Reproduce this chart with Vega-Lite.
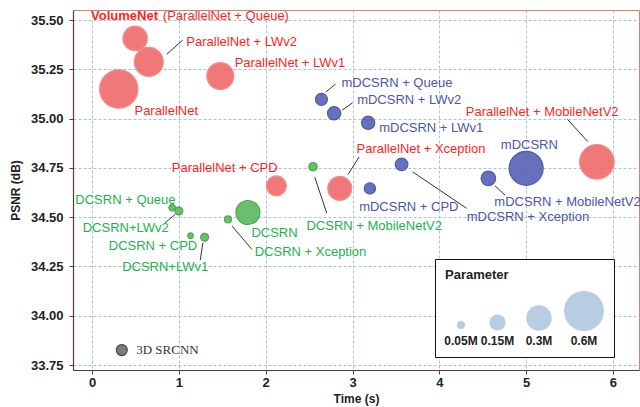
{
  "$schema": "https://vega.github.io/schema/vega-lite/v6.json",
  "width": 566,
  "height": 360,
  "autosize": {"type": "none"},
  "padding": {"left": 73, "top": 10, "right": 1, "bottom": 37},
  "background": "white",
  "config": {
    "font": "Liberation Sans",
    "view": {"stroke": "#d9826e", "strokeWidth": 1},
    "axis": {
      "grid": true,
      "gridColor": "#a9c4d4",
      "gridDash": [3, 2],
      "gridWidth": 1,
      "domainColor": "#5b3b33",
      "domainWidth": 1.2,
      "tickColor": "#5b3b33",
      "tickSize": 4,
      "labelFont": "Liberation Sans",
      "labelFontSize": 13,
      "labelFontWeight": "bold",
      "labelColor": "#222222",
      "titleFont": "Liberation Sans",
      "titleFontWeight": "bold",
      "titleFontSize": 12,
      "titleColor": "#222222"
    }
  },
  "datasets": {
    "points": [
      {"model": "VolumeNet (ParallelNet + Queue)", "group": "ParallelNet", "time": 0.496, "psnr": 35.407, "params": 0.281},
      {"model": "ParallelNet + LWv2", "group": "ParallelNet", "time": 0.653, "psnr": 35.288, "params": 0.366},
      {"model": "ParallelNet", "group": "ParallelNet", "time": 0.307, "psnr": 35.15, "params": 0.563},
      {"model": "ParallelNet + LWv1", "group": "ParallelNet", "time": 1.477, "psnr": 35.216, "params": 0.328},
      {"model": "ParallelNet + CPD", "group": "ParallelNet", "time": 2.123, "psnr": 34.659, "params": 0.206},
      {"model": "ParallelNet + Xception", "group": "ParallelNet", "time": 2.853, "psnr": 34.646, "params": 0.273},
      {"model": "ParallelNet + MobileNetV2", "group": "ParallelNet", "time": 5.815, "psnr": 34.781, "params": 0.48},
      {"model": "mDCSRN + Queue", "group": "mDCSRN", "time": 2.642, "psnr": 35.098, "params": 0.094},
      {"model": "mDCSRN + LWv2", "group": "mDCSRN", "time": 2.788, "psnr": 35.027, "params": 0.11},
      {"model": "mDCSRN + LWv1", "group": "mDCSRN", "time": 3.18, "psnr": 34.979, "params": 0.11},
      {"model": "mDCSRN + CPD", "group": "mDCSRN", "time": 3.2, "psnr": 34.646, "params": 0.086},
      {"model": "mDCSRN + Xception", "group": "mDCSRN", "time": 3.565, "psnr": 34.768, "params": 0.102},
      {"model": "mDCSRN + MobileNetV2", "group": "mDCSRN", "time": 4.565, "psnr": 34.697, "params": 0.127},
      {"model": "mDCSRN", "group": "mDCSRN", "time": 5.0, "psnr": 34.748, "params": 0.467},
      {"model": "DCSRN + Queue", "group": "DCSRN", "time": 0.923, "psnr": 34.548, "params": 0.038},
      {"model": "DCSRN + LWv2", "group": "DCSRN", "time": 0.999, "psnr": 34.532, "params": 0.05},
      {"model": "DCSRN + CPD", "group": "DCSRN", "time": 1.134, "psnr": 34.406, "params": 0.029},
      {"model": "DCSRN + LWv1", "group": "DCSRN", "time": 1.296, "psnr": 34.398, "params": 0.05},
      {"model": "DCSRN + Xception", "group": "DCSRN", "time": 1.565, "psnr": 34.489, "params": 0.041},
      {"model": "DCSRN", "group": "DCSRN", "time": 1.795, "psnr": 34.524, "params": 0.273},
      {"model": "DCSRN + MobileNetV2", "group": "DCSRN", "time": 2.545, "psnr": 34.756, "params": 0.054},
      {"model": "3D SRCNN", "group": "3D SRCNN", "time": 0.342, "psnr": 33.826, "params": 0.082}
    ],
    "labels": [
      {"label": "VolumeNet", "group": "ParallelNet", "labelTime": -0.012, "labelPSNR": 35.522},
      {"label": "(ParallelNet + Queue)", "group": "ParallelNet", "labelTime": 0.815, "labelPSNR": 35.522},
      {"label": "ParallelNet + LWv2", "group": "ParallelNet", "labelTime": 1.085, "labelPSNR": 35.387},
      {"label": "ParallelNet + LWv1", "group": "ParallelNet", "labelTime": 1.642, "labelPSNR": 35.28},
      {"label": "ParallelNet", "group": "ParallelNet", "labelTime": 0.488, "labelPSNR": 35.038},
      {"label": "ParallelNet + CPD", "group": "ParallelNet", "labelTime": 0.918, "labelPSNR": 34.748},
      {"label": "ParallelNet + Xception", "group": "ParallelNet", "labelTime": 3.046, "labelPSNR": 34.844},
      {"label": "ParallelNet + MobileNetV2", "group": "ParallelNet", "labelTime": 4.304, "labelPSNR": 35.035},
      {"label": "mDCSRN + Queue", "group": "mDCSRN", "labelTime": 2.873, "labelPSNR": 35.182},
      {"label": "mDCSRN + LWv2", "group": "mDCSRN", "labelTime": 3.053, "labelPSNR": 35.094},
      {"label": "mDCSRN + LWv1", "group": "mDCSRN", "labelTime": 3.307, "labelPSNR": 34.951},
      {"label": "mDCSRN", "group": "mDCSRN", "labelTime": 4.708, "labelPSNR": 34.866},
      {"label": "mDCSRN + CPD", "group": "mDCSRN", "labelTime": 3.076, "labelPSNR": 34.553},
      {"label": "mDCSRN + Xception", "group": "mDCSRN", "labelTime": 4.315, "labelPSNR": 34.499},
      {"label": "mDCSRN + MobileNetV2", "group": "mDCSRN", "labelTime": 4.634, "labelPSNR": 34.578},
      {"label": "DCSRN + Queue", "group": "DCSRN", "labelTime": -0.193, "labelPSNR": 34.587},
      {"label": "DCSRN+LWv2", "group": "DCSRN", "labelTime": -0.108, "labelPSNR": 34.443},
      {"label": "DCSRN + CPD", "group": "DCSRN", "labelTime": 0.192, "labelPSNR": 34.355},
      {"label": "DCSRN+LWv1", "group": "DCSRN", "labelTime": 0.346, "labelPSNR": 34.245},
      {"label": "DCSRN", "group": "DCSRN", "labelTime": 1.835, "labelPSNR": 34.418},
      {"label": "DCSRN + Xception", "group": "DCSRN", "labelTime": 1.873, "labelPSNR": 34.324},
      {"label": "DCSRN + MobileNetV2", "group": "DCSRN", "labelTime": 2.469, "labelPSNR": 34.455},
      {"label": "3D SRCNN", "group": "3D SRCNN", "labelTime": 0.508, "labelPSNR": 33.826}
    ],
    "links": [
      {"time": 0.861, "psnr": 35.327, "time2": 1.045, "psnr2": 35.399},
      {"time": 2.949, "psnr": 34.717, "time2": 3.076, "psnr2": 34.806},
      {"time": 5.476, "psnr": 34.996, "time2": 5.711, "psnr2": 34.883},
      {"time": 2.692, "psnr": 35.135, "time2": 2.804, "psnr2": 35.175},
      {"time": 2.88, "psnr": 35.043, "time2": 3.0, "psnr2": 35.08},
      {"time": 3.692, "psnr": 34.73, "time2": 4.315, "psnr2": 34.545},
      {"time": 4.642, "psnr": 34.659, "time2": 4.757, "psnr2": 34.612},
      {"time": 0.842, "psnr": 34.472, "time2": 0.958, "psnr2": 34.514},
      {"time": 1.246, "psnr": 34.282, "time2": 1.276, "psnr2": 34.37},
      {"time": 1.611, "psnr": 34.455, "time2": 1.841, "psnr2": 34.337},
      {"time": 2.565, "psnr": 34.703, "time2": 2.703, "psnr2": 34.521}
    ]
  },
  "layer": [
    {
      "data": {"name": "links"},
      "mark": {"type": "rule", "color": "#333333", "strokeWidth": 1},
      "encoding": {
        "x": {"field": "time", "type": "quantitative", "scale": {"domain": [-0.22, 6.3], "nice": false, "zero": false},
              "axis": {"values": [0, 1, 2, 3, 4, 5, 6], "format": "d", "title": "Time (s)", "labelPadding": 2, "titlePadding": 4}},
        "y": {"field": "psnr", "type": "quantitative", "scale": {"domain": [33.725, 35.551], "nice": false, "zero": false},
              "axis": {"values": [33.75, 34, 34.25, 34.5, 34.75, 35, 35.25, 35.5], "format": ".2f", "title": "PSNR (dB)", "labelPadding": 6, "titlePadding": 8}},
        "x2": {"field": "time2"},
        "y2": {"field": "psnr2"}
      }
    },
    {
      "data": {"name": "points"},
      "mark": {"type": "circle", "opacity": 0.9, "strokeWidth": 1.2},
      "encoding": {
        "x": {"field": "time", "type": "quantitative"},
        "y": {"field": "psnr", "type": "quantitative"},
        "fill": {"field": "group", "type": "nominal", "legend": null,
                 "scale": {"domain": ["ParallelNet", "mDCSRN", "DCSRN", "3D SRCNN"], "range": ["#f06a6a", "#5661b6", "#5cb85c", "#6e6e6e"]}},
        "stroke": {"field": "group", "type": "nominal", "legend": null,
                   "scale": {"domain": ["ParallelNet", "mDCSRN", "DCSRN", "3D SRCNN"], "range": ["#f48080", "#3f4aa8", "#3f9e3f", "#333333"]}},
        "size": {"field": "params", "type": "quantitative",
                 "scale": {"type": "pow", "exponent": 1.3, "domain": [0, 0.6], "range": [0, 1600]},
                 "legend": {
                   "title": "Parameter",
                   "orient": "none",
                   "legendX": 362,
                   "legendY": 249,
                   "direction": "horizontal",
                   "values": [0.05, 0.15, 0.3, 0.6],
                   "labelExpr": "datum.value + 'M'",
                   "strokeColor": "#111111",
                   "fillColor": "#ffffff",
                   "padding": 10,
                   "titleFont": "Liberation Sans",
                   "titleFontSize": 13,
                   "titleFontWeight": "bold",
                   "titleColor": "#222222",
                   "titlePadding": 9,
                   "labelFont": "Liberation Sans",
                   "labelFontSize": 12,
                   "labelFontWeight": "bold",
                   "labelColor": "#222222",
                   "labelAlign": "center",
                   "labelBaseline": "top",
                   "columnPadding": 1,
                   "symbolOffset": 10,
                   "symbolFillColor": "#b8cce4",
                   "symbolStrokeColor": "#b8cce4",
                   "symbolStrokeWidth": 0,
                   "symbolOpacity": 1,
                   "encode": {
                     "symbols": {"update": {"y": {"signal": "40 - datum.size * 0.5"}, "fill": {"value": "#b8cce4"}, "opacity": {"value": 1}}},
                     "labels": {"update": {"x": {"signal": "datum.size * 0.5 + 10"}, "y": {"value": 45}}}
                   }
                 }}
      }
    },
    {
      "data": {"name": "labels"},
      "transform": [{"filter": "datum.label !== 'VolumeNet' && datum.label !== '3D SRCNN'"}],
      "mark": {"type": "text", "align": "left", "baseline": "middle", "font": "Liberation Sans", "fontSize": 13},
      "encoding": {
        "x": {"field": "labelTime", "type": "quantitative"},
        "y": {"field": "labelPSNR", "type": "quantitative"},
        "text": {"field": "label"},
        "color": {"field": "group", "type": "nominal", "legend": null,
                  "scale": {"domain": ["ParallelNet", "mDCSRN", "DCSRN", "3D SRCNN"], "range": ["#ff1f1f", "#4a55b0", "#22b24c", "#333333"]}}
      }
    },
    {
      "data": {"name": "labels"},
      "transform": [{"filter": "datum.label === 'VolumeNet'"}],
      "mark": {"type": "text", "align": "left", "baseline": "middle", "font": "Liberation Sans", "fontSize": 13, "fontWeight": "bold", "color": "#ff1f1f"},
      "encoding": {
        "x": {"field": "labelTime", "type": "quantitative"},
        "y": {"field": "labelPSNR", "type": "quantitative"},
        "text": {"field": "label"}
      }
    },
    {
      "data": {"name": "labels"},
      "transform": [{"filter": "datum.label === '3D SRCNN'"}],
      "mark": {"type": "text", "align": "left", "baseline": "middle", "font": "Liberation Serif", "fontSize": 13, "color": "#333333"},
      "encoding": {
        "x": {"field": "labelTime", "type": "quantitative"},
        "y": {"field": "labelPSNR", "type": "quantitative"},
        "text": {"field": "label"}
      }
    }
  ]
}
